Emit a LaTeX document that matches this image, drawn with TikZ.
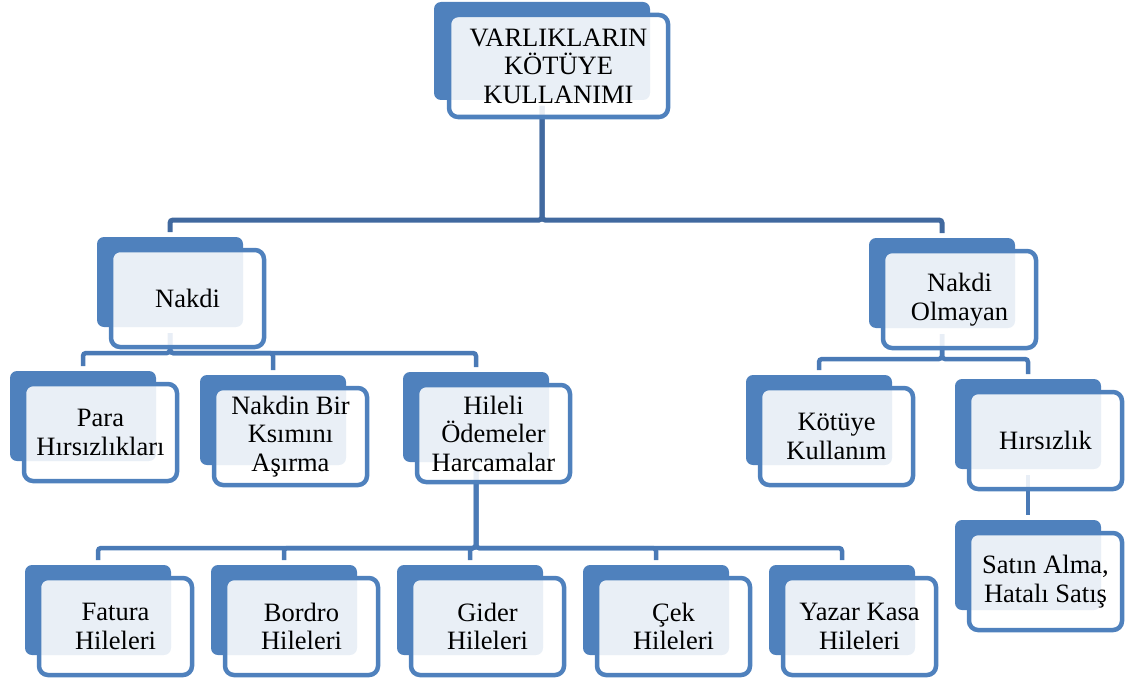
\documentclass[tikz,border=0pt]{standalone}
\usepackage{fontspec}
\setmainfont{Liberation Serif}
\usetikzlibrary{calc}
\definecolor{accent}{HTML}{4F81BD}
\definecolor{linkdark}{HTML}{41699F}
\definecolor{link}{HTML}{4A7AB6}
\tikzset{
  backbox/.style={fill=accent, rounded corners=7pt, inner sep=0pt, outer sep=0pt,
    minimum width=146pt, minimum height=90pt, anchor=north west},
  frontbox/.style={draw=accent, line width=4.5pt, fill=white, fill opacity=0.88,
    text opacity=1, rounded corners=9pt, inner sep=0pt, outer sep=0pt,
    minimum width=153pt, minimum height=97pt, anchor=north west,
    align=center, font=\fontsize{26.5}{28.5}\selectfont},
  conn/.style={draw=link, line width=4.5pt, rounded corners=3pt,
    shorten <=6pt, shorten >=5pt},
  conntop/.style={conn, draw=linkdark, line width=5pt},
}
% back plate of a card, placed by its top left corner
\newcommand\cardback[3]{\node[backbox] (#1-b) at (#2,#3) {};}
% framed front panel of a card, offset from its back plate
\newcommand\cardfront[4]{\node[frontbox] (#1) at ($(#2,#3)+(14,13)$) {#4};}
\begin{document}
\begin{tikzpicture}[x=1pt,y=-1pt]
\useasboundingbox (0,0) rectangle (1139,682);

% back plates
\node[backbox, minimum width=216pt, minimum height=98pt] (top-b) at (434,2) {};
\cardback{nakdi}{97}{237}
\cardback{olm}{869}{238}
\cardback{para}{10}{371}
\cardback{kisim}{200}{375}
\cardback{hileli}{403}{372}
\cardback{kotu}{746}{375}
\cardback{hirs}{955}{379}
\cardback{satin}{955}{520}
\cardback{fatura}{25}{565}
\cardback{bordro}{211}{565}
\cardback{gider}{397}{565}
\cardback{cek}{583}{565}
\cardback{yazar}{769}{565}

% bus levels
\coordinate (busTop) at (0,220);
\coordinate (busNakdi) at (0,353);
\coordinate (busOlm) at (0,359);
\coordinate (busHileli) at (0,548);

% connectors
\draw[conntop] (top-b.south) -- (top-b.south |- busTop) -| (nakdi-b.north);
\draw[conntop] (top-b.south) -- (top-b.south |- busTop) -| (olm-b.north);
\foreach \c in {para,kisim,hileli}
  \draw[conn] (nakdi-b.south) -- (nakdi-b.south |- busNakdi) -| (\c-b.north);
\foreach \c in {kotu,hirs}
  \draw[conn] (olm-b.south) -- (olm-b.south |- busOlm) -| (\c-b.north);
\foreach \c in {fatura,bordro,gider,cek,yazar}
  \draw[conn] (hileli-b.south) -- (hileli-b.south |- busHileli) -| (\c-b.north);
\draw[conn] (hirs-b.south) -- (satin-b.north);

% front panels
\node[frontbox, minimum width=219pt, minimum height=102pt] (top) at (449,15)
  {VARLIKLARIN\\KÖTÜYE\\KULLANIMI};
\cardfront{nakdi}{97}{237}{Nakdi}
\cardfront{olm}{869}{238}{Nakdi\\Olmayan}
\cardfront{para}{10}{371}{Para\\Hırsızlıkları}
\cardfront{kisim}{200}{375}{Nakdin Bir\\Ksımını\\Aşırma}
\cardfront{hileli}{403}{372}{Hileli\\Ödemeler\\Harcamalar}
\cardfront{kotu}{746}{375}{Kötüye\\Kullanım}
\cardfront{hirs}{955}{379}{Hırsızlık}
\cardfront{satin}{955}{520}{Satın Alma,\\Hatalı Satış}
\cardfront{fatura}{25}{565}{Fatura\\Hileleri}
\cardfront{bordro}{211}{565}{Bordro\\Hileleri}
\cardfront{gider}{397}{565}{Gider\\Hileleri}
\cardfront{cek}{583}{565}{Çek\\Hileleri}
\cardfront{yazar}{769}{565}{Yazar Kasa\\Hileleri}
\end{tikzpicture}
\end{document}
